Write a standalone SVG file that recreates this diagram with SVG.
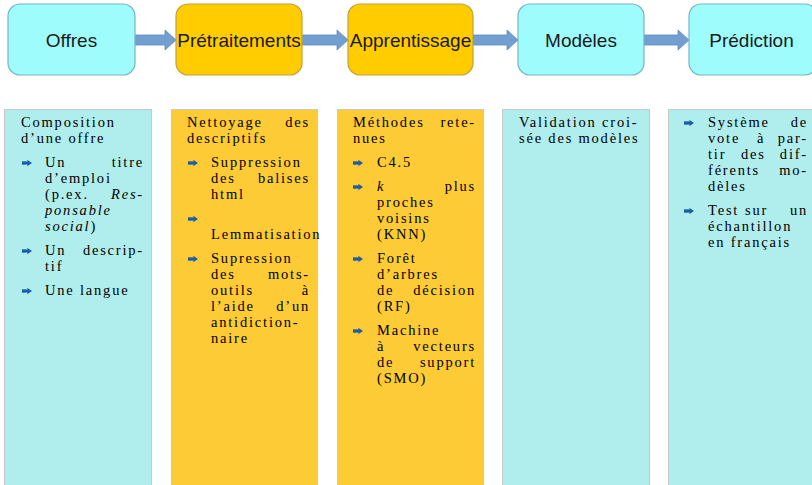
<svg xmlns="http://www.w3.org/2000/svg" width="812" height="485" viewBox="0 0 812 485">
<defs>
<style>
.tc{fill:#9efcfd;stroke:#78b4c6;stroke-width:1.2}
.to{fill:#ffcc00;stroke:#c4a03c;stroke-width:1.2}
.tl{font-family:"Liberation Sans",Arial,sans-serif;font-size:19px;fill:#1a1a1a;text-anchor:middle}
.cc{fill:#b0eded;stroke:#c8c8c8;stroke-width:1}
.co{fill:#fdcb35;stroke:#c8c8c8;stroke-width:1}
.t{font-family:"Liberation Serif","Times New Roman",serif;font-size:14.5px;letter-spacing:1.8px;fill:#000}
.e{text-anchor:end}
.i{font-style:italic}
.ar{fill:#729fcf;stroke:#5f8cc0;stroke-width:0.8}
.bl{fill:#1a5ca6}
</style>
<path id="b" class="bl" d="M0,-1.3 Q0,-1.8 0.6,-1.8 L5.6,-1.4 L5.2,-3.2 L10,0 L5.2,3.2 L5.6,1.4 L0.6,1.8 Q0,1.8 0,1.3 Z"/>
</defs>
<rect width="812" height="485" fill="#ffffff"/>

<g id="connectors">
<polygon class="ar" points="135,35 165,35 165,30 176,40 165,50 165,45 135,45"/>
<polygon class="ar" points="302,35 337,35 337,30 348,40 337,50 337,45 302,45"/>
<polygon class="ar" points="473,35 507,35 507,30 518,40 507,50 507,45 473,45"/>
<polygon class="ar" points="644,35 678,35 678,30 689,40 678,50 678,45 644,45"/>
</g>

<g id="offres">
<rect class="tc" x="8" y="4" width="127" height="71" rx="12"/>
<text class="tl" x="71.5" y="47">Offres</text>
</g>
<g id="pretraitements">
<rect class="to" x="176" y="4" width="126" height="71" rx="12"/>
<text class="tl" x="239" y="47">Prétraitements</text>
</g>
<g id="apprentissage">
<rect class="to" x="348" y="4" width="125" height="71" rx="12"/>
<text class="tl" x="410.5" y="47">Apprentissage</text>
</g>
<g id="modeles">
<rect class="tc" x="518" y="4" width="126" height="71" rx="12"/>
<text class="tl" x="581" y="47">Modèles</text>
</g>
<g id="prediction">
<rect class="tc" x="689" y="4" width="128" height="71" rx="12"/>
<text class="tl" x="751.5" y="47">Prédiction</text>
</g>

<g id="col-offres">
<rect class="cc" x="4.5" y="109.5" width="147" height="380"/>
<text class="t" x="21" y="127">Composition</text>
<text class="t" x="21" y="143">d’une offre</text>
<use href="#b" x="22" y="163"/>
<text class="t" x="45" y="167">Un</text>
<text class="t e" x="144" y="167">titre</text>
<text class="t" x="45" y="183">d’emploi</text>
<text class="t" x="45" y="199">(p.ex.</text>
<text class="t e i" x="144" y="199">Res-</text>
<text class="t" x="45" y="215"><tspan class="i">ponsable</tspan></text>
<text class="t" x="45" y="231"><tspan class="i">social</tspan>)</text>
<use href="#b" x="22" y="251"/>
<text class="t" x="45" y="255">Un</text>
<text class="t e" x="144" y="255">descrip-</text>
<text class="t" x="45" y="271">tif</text>
<use href="#b" x="22" y="291"/>
<text class="t" x="45" y="295">Une langue</text>
</g>

<g id="col-pretraitements">
<rect class="co" x="171.5" y="109.5" width="146" height="380"/>
<text class="t" x="187" y="127">Nettoyage</text>
<text class="t e" x="310" y="127">des</text>
<text class="t" x="187" y="143">descriptifs</text>
<use href="#b" x="188" y="163"/>
<text class="t" x="211" y="167">Suppression</text>
<text class="t" x="211" y="183">des</text>
<text class="t e" x="310" y="183">balises</text>
<text class="t" x="211" y="199">html</text>
<use href="#b" x="188" y="219"/>
<text class="t" x="211" y="239">Lemmatisation</text>
<use href="#b" x="188" y="259"/>
<text class="t" x="211" y="263">Supression</text>
<text class="t" x="211" y="279">des</text>
<text class="t e" x="310" y="279">mots-</text>
<text class="t" x="211" y="295">outils</text>
<text class="t e" x="310" y="295">à</text>
<text class="t" x="211" y="311">l’aide</text>
<text class="t e" x="310" y="311">d’un</text>
<text class="t" x="211" y="327">antidiction-</text>
<text class="t" x="211" y="343">naire</text>
</g>

<g id="col-apprentissage">
<rect class="co" x="337.5" y="109.5" width="146" height="380"/>
<text class="t" x="353" y="127">Méthodes</text>
<text class="t e" x="476" y="127">rete-</text>
<text class="t" x="353" y="143">nues</text>
<use href="#b" x="353" y="163"/>
<text class="t" x="377" y="167">C4.5</text>
<use href="#b" x="353" y="187"/>
<text class="t i" x="377" y="191">k</text>
<text class="t e" x="476" y="191">plus</text>
<text class="t" x="377" y="207">proches</text>
<text class="t" x="377" y="223">voisins</text>
<text class="t" x="377" y="239">(KNN)</text>
<use href="#b" x="353" y="259"/>
<text class="t" x="377" y="263">Forêt</text>
<text class="t" x="377" y="279">d’arbres</text>
<text class="t" x="377" y="295">de</text>
<text class="t e" x="476" y="295">décision</text>
<text class="t" x="377" y="311">(RF)</text>
<use href="#b" x="353" y="331"/>
<text class="t" x="377" y="335">Machine</text>
<text class="t" x="377" y="351">à</text>
<text class="t e" x="476" y="351">vecteurs</text>
<text class="t" x="377" y="367">de</text>
<text class="t e" x="476" y="367">support</text>
<text class="t" x="377" y="383">(SMO)</text>
</g>

<g id="col-modeles">
<rect class="cc" x="502.5" y="109.5" width="147" height="380"/>
<text class="t" x="519" y="127">Validation croi-</text>
<text class="t" x="519" y="143">sée des modèles</text>
</g>

<g id="col-prediction">
<rect class="cc" x="668.5" y="109.5" width="150" height="380"/>
<use href="#b" x="684" y="123"/>
<text class="t" x="708" y="127">Système</text>
<text class="t e" x="808" y="127">de</text>
<text class="t" x="708" y="143">vote</text>
<text class="t" x="757" y="143">à</text>
<text class="t e" x="808" y="143">par-</text>
<text class="t" x="708" y="159">tir</text>
<text class="t" x="741" y="159">des</text>
<text class="t e" x="808" y="159">dif-</text>
<text class="t" x="708" y="175">férents</text>
<text class="t e" x="808" y="175">mo-</text>
<text class="t" x="708" y="191">dèles</text>
<use href="#b" x="684" y="211"/>
<text class="t" x="708" y="215">Test</text>
<text class="t" x="745" y="215">sur</text>
<text class="t e" x="808" y="215">un</text>
<text class="t" x="708" y="231">échantillon</text>
<text class="t" x="708" y="247">en français</text>
</g>
</svg>
